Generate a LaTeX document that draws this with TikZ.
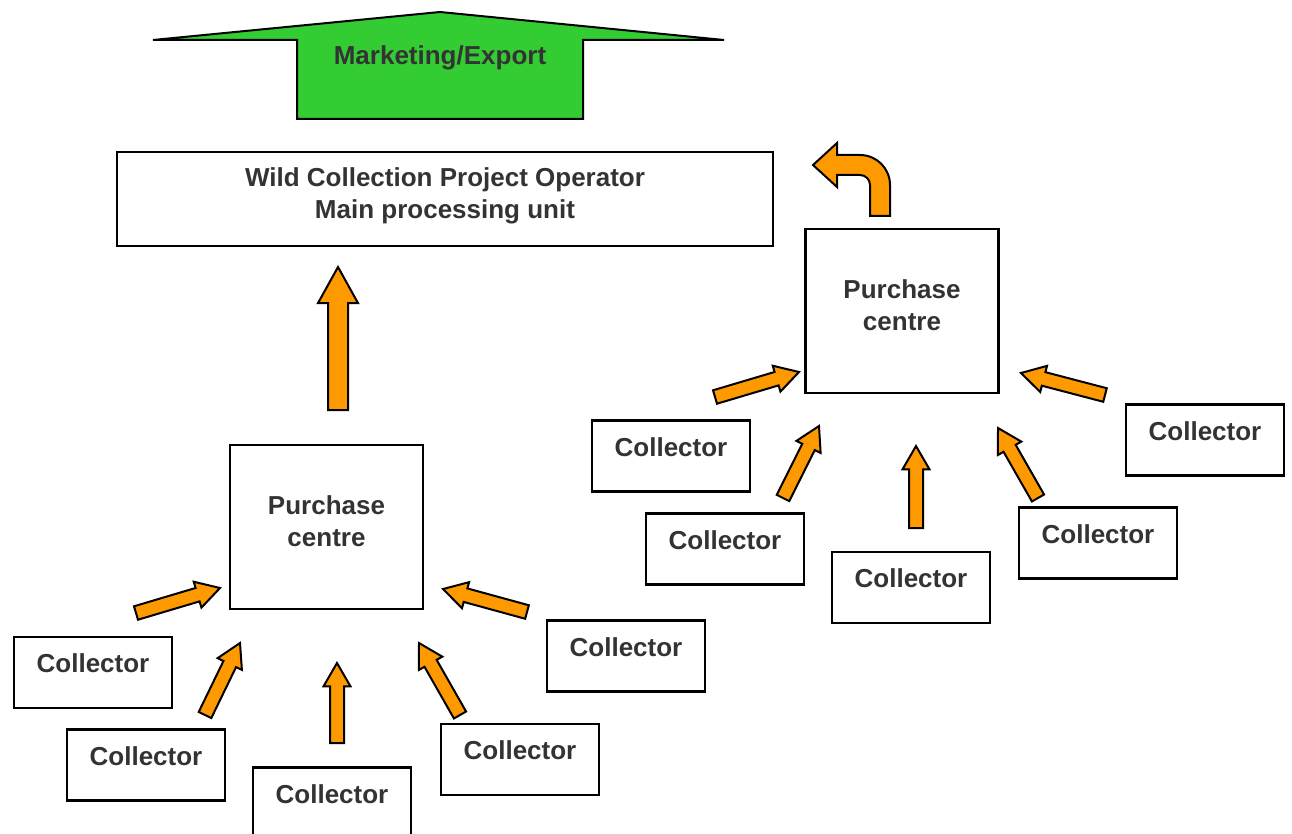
\documentclass[tikz,border=0pt]{standalone}
\usepackage{fontspec}
\setmainfont{Liberation Sans}
\usetikzlibrary{shapes.arrows}
\usetikzlibrary{calc}

\definecolor{txtgrey}{HTML}{333333}
\definecolor{mktgreen}{HTML}{33CC33}
\definecolor{flow}{HTML}{FF9900}

% block arrow from one named point to another
\newcommand{\flowarrow}[3][]{%
  \path let \p1=($(#3)-(#2)$), \n1={veclen(\x1,\y1)}, \n2={atan2(\y1,\x1)} in
    node[flowarr, #1, minimum height=\n1, rotate=\n2, anchor=tail] at (#2) {};}

\begin{document}
\begin{tikzpicture}[x=1pt, y=-1pt,
    every node/.style={text=txtgrey, font=\bfseries\fontsize{26}{32}\selectfont},
    box/.style={draw, line width=2.5pt, inner sep=0pt, align=center},
    collector/.style={box, minimum width=158pt, minimum height=71pt, text height=20pt, text depth=20pt},
    centre/.style={box, minimum width=193pt, minimum height=164pt, text height=20pt, text depth=45pt},
    flowarr/.style={single arrow, draw=black, fill=flow, line width=2pt, line join=miter,
      inner xsep=0pt, inner ysep=6pt, outer sep=0pt, minimum width=0pt,
      single arrow head extend=6.5pt, single arrow tip angle=60},
    bigarr/.style={inner ysep=9pt, single arrow head extend=10pt, single arrow tip angle=58}]
  \useasboundingbox (0,0) rectangle (1292,834);

  % marketing arrow
  \draw[fill=mktgreen, line width=2pt, line join=miter]
    (153,40) -- (440,12) -- (724,40) -- (583,40) -- (583,119) -- (297,119) -- (297,40) -- cycle;
  \node (mkt) at (440,58) {Marketing/Export};

  \node[box, minimum width=656pt, minimum height=94pt, text height=20pt, text depth=45pt] (main) at (445,199)
    {\begin{tabular}[t]{@{}c@{}}Wild Collection Project Operator\\ Main processing unit\end{tabular}};

  \node[centre] (pcl) at (326.5,527) {\begin{tabular}[t]{@{}c@{}}Purchase\\ centre\end{tabular}};
  \node[centre] (pcr) at (902,311) {\begin{tabular}[t]{@{}c@{}}Purchase\\ centre\end{tabular}};

  \node[collector] (c1) at (93,672.5) {Collector};
  \node[collector] (c2) at (146,765) {Collector};
  \node[collector] (c3) at (332,803) {Collector};
  \node[collector] (c4) at (520,759.5) {Collector};
  \node[collector] (c5) at (626,656) {Collector};

  \node[collector] (c6) at (671,456) {Collector};
  \node[collector] (c7) at (725,549) {Collector};
  \node[collector] (c8) at (911,587.5) {Collector};
  \node[collector] (c9) at (1098,543) {Collector};
  \node[collector] (c10) at (1205,440) {Collector};

  % arrow ends
  \coordinate (a1) at (136,613);  \coordinate (t1) at (220,588);
  \coordinate (a2) at (205,715);  \coordinate (t2) at (240,643);
  \coordinate (a3) at (337,743);  \coordinate (t3) at (337,663);
  \coordinate (a4) at (460,715);  \coordinate (t4) at (419,643);
  \coordinate (a5) at (527,612);  \coordinate (t5) at (443,589);
  \coordinate (b1) at (715,397);  \coordinate (u1) at (799,372);
  \coordinate (b2) at (783,498);  \coordinate (u2) at (819,426);
  \coordinate (b3) at (916,528);  \coordinate (u3) at (916,446);
  \coordinate (b4) at (1038,498); \coordinate (u4) at (998,428);
  \coordinate (b5) at (1105,395); \coordinate (u5) at (1021,373);
  \coordinate (up) at (338,410);  \coordinate (uptip) at (338,267);

  \flowarrow{a1}{t1} \flowarrow{a2}{t2} \flowarrow{a3}{t3} \flowarrow{a4}{t4} \flowarrow{a5}{t5}
  \flowarrow{b1}{u1} \flowarrow{b2}{u2} \flowarrow{b3}{u3} \flowarrow{b4}{u4} \flowarrow{b5}{u5}
  \flowarrow[bigarr]{up}{uptip}

  % turning arrow above the right purchase centre
  \draw[fill=flow, line width=2pt, line join=miter]
    (870,216) -- (890,216) -- (890,185) .. controls (890,168.4) and (876.6,155) .. (860,155)
    -- (837,155) -- (837,143) -- (813,165) -- (837,187) -- (837,175) -- (860,175)
    .. controls (865.5,175) and (870,179.5) .. (870,185) -- cycle;
\end{tikzpicture}
\end{document}
